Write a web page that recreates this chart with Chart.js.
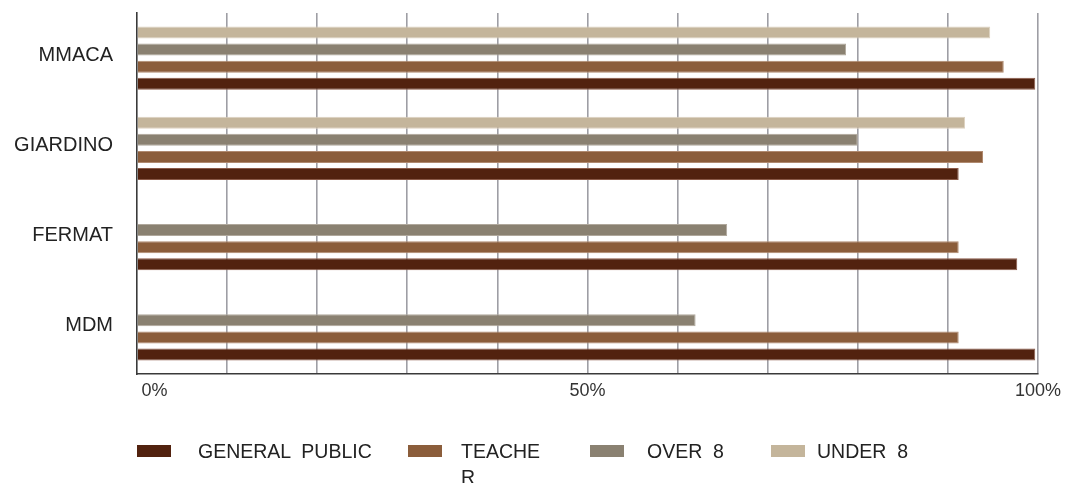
<!DOCTYPE html>
<html>
<head>
<meta charset="utf-8">
<script src="https://cdn.jsdelivr.net/npm/chart.js@4.4.1/dist/chart.umd.min.js"></script>
<style>
  html, body { margin: 0; padding: 0; background: #ffffff; }
  #wrap { position: relative; width: 1067px; height: 483px; overflow: hidden; }
  #chart { position: absolute; left: 0; top: 0; }
  #legend { position: absolute; left: 0; top: 437.75px; width: 1067px; height: 46px;
            font-family: "Liberation Sans", Arial, sans-serif; font-size: 19.5px; line-height: 26px; color: #222; }
  .item { position: absolute; top: 0; display: flex; align-items: flex-start; }
  .box { width: 34px; height: 12px; margin-top: 7.25px; flex: none; }
  .txt { white-space: pre; }
  .item.wrap .txt { white-space: normal; word-break: break-all; width: 84px; }
</style>
</head>
<body>
<div id="wrap">
  <canvas id="chart" width="1067" height="483"></canvas>
  <div id="legend"></div>
</div>
<script>
// Categories (top to bottom)
const categories = ['MMACA', 'GIARDINO', 'FERMAT', 'MDM'];

// Series values (percent)
const generalPublic = [99.7, 91.2, 97.7, 99.7];
const teacher       = [96.2, 93.9, 91.2, 91.2];
const over8         = [78.7, 80.0, 65.5, 62.0];
const under8        = [94.7, 91.9, null, null];

// Series labels (legend order)
const seriesLabels = ['GENERAL PUBLIC', 'TEACHER', 'OVER 8', 'UNDER 8'];

// X tick labels shown
const xTickLabels = ['0%', '50%', '100%'];

const colors = {
  'GENERAL PUBLIC': '#52220f',
  'TEACHER': '#8b5d3b',
  'OVER 8': '#8a8171',
  'UNDER 8': '#c4b59b'
};
const borders = {
  'GENERAL PUBLIC': '#8a5a48',
  'TEACHER': '#b08a70',
  'OVER 8': '#b0a89c',
  'UNDER 8': '#ddd2c0'
};

const valuesByLabel = {
  'GENERAL PUBLIC': generalPublic,
  'TEACHER': teacher,
  'OVER 8': over8,
  'UNDER 8': under8
};

// Drawn top-to-bottom within each group: UNDER 8, OVER 8, TEACHER, GENERAL PUBLIC
const datasets = seriesLabels.slice().reverse().map(lbl => ({
  label: lbl,
  data: valuesByLabel[lbl],
  backgroundColor: colors[lbl],
  borderColor: borders[lbl],
  borderWidth: 1,
  categoryPercentage: 0.754,
  barPercentage: 0.706
}));

const FONT = '"Liberation Sans", Arial, sans-serif';

const chart = new Chart(document.getElementById('chart'), {
  type: 'bar',
  data: { labels: categories, datasets },
  options: {
    indexAxis: 'y',
    responsive: false,
    animation: false,
    devicePixelRatio: 1,
    layout: { padding: { left: 0, right: 27, top: 13, bottom: 0 } },
    plugins: {
      legend: { display: false },
      tooltip: { enabled: false }
    },
    scales: {
      x: {
        min: 0, max: 100,
        afterFit: (s) => { s.height = 109; },
        ticks: {
          stepSize: 10,
          autoSkip: false,
          maxRotation: 0,
          padding: 6,
          color: '#333',
          font: { family: FONT, size: 18 },
          callback: (v) => {
            const lbl = v + '%';
            if (!xTickLabels.includes(lbl)) return '';
            if (v === 0) return '       ' + lbl;
            return lbl;
          }
        },
        grid: {
          drawTicks: false,
          color: (ctx) => ctx.tick && ctx.tick.value === 0 ? 'rgba(0,0,0,0)' : '#9e9ea4',
          lineWidth: 1.6
        },
        border: { display: true, color: '#3a3a3a', width: 1.6 }
      },
      y: {
        afterFit: (s) => { s.width = 137; s.paddingTop = 0; s.paddingBottom = 0; },
        ticks: {
          padding: 24,
          color: '#222',
          labelOffset: -3,
          font: { family: FONT, size: 20 }
        },
        grid: { display: false, drawTicks: false },
        border: { display: true, color: '#3a3a3a', width: 1.6 }
      }
    }
  }
});

// HTML legend built from the chart's datasets, in legend order
const legendPos = [
  { left: 137, gap: 27 },
  { left: 408, gap: 19, wrap: true },
  { left: 590, gap: 23 },
  { left: 771, gap: 12 }
];
const legendEl = document.getElementById('legend');
seriesLabels.forEach((lbl, i) => {
  const ds = chart.data.datasets.find(d => d.label === lbl);
  const item = document.createElement('div');
  item.className = 'item' + (legendPos[i].wrap ? ' wrap' : '');
  item.style.left = legendPos[i].left + 'px';
  const box = document.createElement('span');
  box.className = 'box';
  box.style.background = ds.backgroundColor;
  box.style.marginRight = legendPos[i].gap + 'px';
  const txt = document.createElement('span');
  txt.className = 'txt';
  txt.textContent = lbl.replace(' ', '  ');
  item.appendChild(box);
  item.appendChild(txt);
  legendEl.appendChild(item);
});
</script>
</body>
</html>
